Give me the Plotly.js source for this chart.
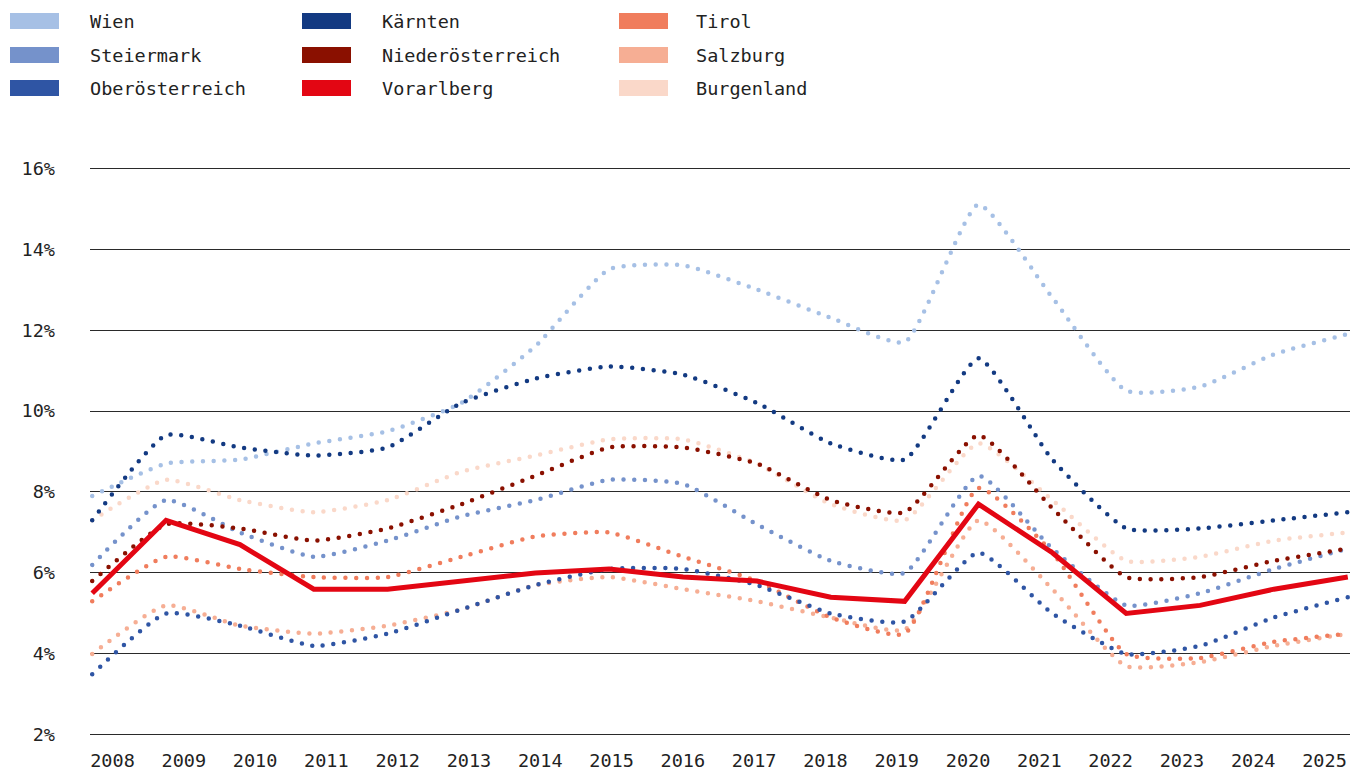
<!DOCTYPE html>
<html>
<head>
<meta charset="utf-8">
<script src="https://cdn.plot.ly/plotly-3.0.1.min.js"></script>
<style>
  html, body { margin: 0; padding: 0; background: #fff; }
  #chart { width: 1362px; height: 772px; }
  path.js-line[style*="10.7px"] { stroke-linecap: round; }
</style>
</head>
<body>
<div id="chart"></div>
<script>
// ---- data ----
const years = [2008, 2009, 2010, 2011, 2012, 2013, 2014, 2015, 2016, 2017, 2018, 2019, 2020, 2021, 2022, 2023, 2024, 2025];

const wien             = [7.9, 8.7, 8.8, 9.2, 9.5, 10.2, 11.6, 13.5, 13.6, 13.0, 12.3, 11.7, 15.1, 12.8, 10.5, 10.6, 11.4, 11.9];
const steiermark       = [6.2, 7.8, 7.0, 6.4, 6.8, 7.4, 7.8, 8.3, 8.2, 7.2, 6.3, 6.0, 8.4, 6.6, 5.2, 5.5, 6.1, 6.6];
const oberoesterreich  = [3.5, 5.0, 4.7, 4.2, 4.5, 5.1, 5.7, 6.1, 6.1, 5.7, 5.0, 4.8, 6.5, 5.0, 4.0, 4.2, 4.9, 5.4];
const kaernten         = [7.3, 9.4, 9.1, 8.9, 9.1, 10.2, 10.8, 11.1, 10.9, 10.2, 9.2, 8.8, 11.3, 8.8, 7.1, 7.1, 7.3, 7.5];
const niederoesterreich= [5.8, 7.2, 7.1, 6.8, 7.1, 7.7, 8.4, 9.1, 9.1, 8.7, 7.8, 7.5, 9.4, 7.6, 5.9, 5.9, 6.3, 6.6];
const vorarlberg       = [5.5, 7.3, 6.7, 5.6, 5.6, 5.8, 6.0, 6.1, 5.9, 5.8, 5.4, 5.3, 7.7, 6.5, 5.0, 5.2, 5.6, 5.9];
const tirol            = [5.3, 6.4, 6.1, 5.9, 5.9, 6.4, 6.9, 7.0, 6.4, 5.8, 4.9, 4.5, 8.1, 6.5, 4.0, 3.9, 4.3, 4.5];
const salzburg         = [4.0, 5.2, 4.7, 4.5, 4.7, 5.1, 5.7, 5.9, 5.6, 5.3, 4.9, 4.6, 7.3, 5.6, 3.7, 3.8, 4.2, 4.5];
const burgenland       = [7.3, 8.3, 7.8, 7.5, 7.8, 8.5, 8.9, 9.3, 9.3, 8.7, 7.7, 7.3, 9.2, 7.8, 6.3, 6.4, 6.8, 7.0];

const seriesNames  = ['Wien', 'Steiermark', 'Oberösterreich', 'Kärnten', 'Niederösterreich', 'Vorarlberg', 'Tirol', 'Salzburg', 'Burgenland'];
const seriesValues = [wien, steiermark, oberoesterreich, kaernten, niederoesterreich, vorarlberg, tirol, salzburg, burgenland];
const seriesColors = ['#a6c0e5', '#7592cb', '#2f55a4', '#133a82', '#8a1000', '#e30613', '#f07d5d', '#f6ae94', '#fad8c9'];
const highlight = 'Vorarlberg';
const drawOrder = ['Burgenland', 'Salzburg', 'Tirol', 'Wien', 'Steiermark', 'Oberösterreich', 'Kärnten', 'Niederösterreich', 'Vorarlberg'];

// ---- geometry (pixels) ----
const W = 1362, H = 772;
const M = { l: 90, r: 12, t: 164, b: 33 };
const plotW = W - M.l - M.r, plotH = H - M.t - M.b;
const px2x = px => (px - M.l) / plotW;
const py2y = py => (H - M.b - py) / plotH;

const FONT = 'DejaVu Sans Mono, Liberation Mono, monospace';
const TXT = '#222222';

// ---- traces ----
const traces = drawOrder.map(name => {
  const i = seriesNames.indexOf(name);
  const isHi = name === highlight;
  return {
    type: 'scatter',
    mode: 'lines',
    name: name,
    x: years,
    y: seriesValues[i],
    line: isHi
      ? { color: seriesColors[i], width: 5, shape: 'linear' }
      : { color: seriesColors[i], width: 4.5, shape: 'spline', smoothing: 0.5, dash: '0px,10.7px' },
    showlegend: false,
    hoverinfo: 'skip'
  };
});
// label axis carrier
traces.push({
  type: 'scatter', mode: 'lines', x: years, y: years.map(() => null),
  xaxis: 'x2', showlegend: false, hoverinfo: 'skip'
});

// ---- legend (shapes + annotations) ----
const colSwatchX = [10, 302, 619];
const colTextX = [88, 380, 694];
const rowY = [21, 55, 88];
const shapes = [], annotations = [];
seriesNames.forEach((name, i) => {
  const c = Math.floor(i / 3), r = i % 3;
  shapes.push({
    type: 'rect', xref: 'paper', yref: 'paper',
    x0: px2x(colSwatchX[c]), x1: px2x(colSwatchX[c] + 49),
    y0: py2y(rowY[r] + 8), y1: py2y(rowY[r] - 8),
    fillcolor: seriesColors[i], line: { width: 0 }
  });
  annotations.push({
    xref: 'paper', yref: 'paper',
    x: px2x(colTextX[c]), y: py2y(rowY[r]),
    xanchor: 'left', yanchor: 'middle', showarrow: false,
    text: name, font: { family: FONT, size: 18.5, color: TXT }
  });
});

const layout = {
  width: W, height: H, autosize: false,
  margin: M,
  paper_bgcolor: '#ffffff', plot_bgcolor: '#ffffff',
  showlegend: false,
  font: { family: FONT, size: 18.5, color: TXT },
  xaxis: {
    range: [2007.97, 2025.03],
    showgrid: false, zeroline: false, showline: false,
    showticklabels: false, ticks: '', fixedrange: true
  },
  xaxis2: {
    overlaying: 'x', anchor: 'y', side: 'bottom',
    range: [2007.6844, 2025.3577],
    tickmode: 'array', tickvals: years, ticktext: years.map(String),
    showgrid: false, zeroline: false, showline: false, ticks: '',
    ticklabelstandoff: 8,
    tickfont: { family: FONT, size: 18.5, color: TXT }
  },
  yaxis: {
    range: [1.9, 16.1],
    tickmode: 'linear', tick0: 2, dtick: 2, ticksuffix: '%',
    showgrid: true, gridcolor: '#2a2a2a', gridwidth: 1,
    zeroline: false, showline: false, ticks: '',
    ticklabelstandoff: 34,
    tickfont: { family: FONT, size: 18.5, color: TXT }
  },
  shapes: shapes,
  annotations: annotations
};

Plotly.newPlot('chart', traces, layout, { staticPlot: true, displayModeBar: false });
</script>
</body>
</html>
